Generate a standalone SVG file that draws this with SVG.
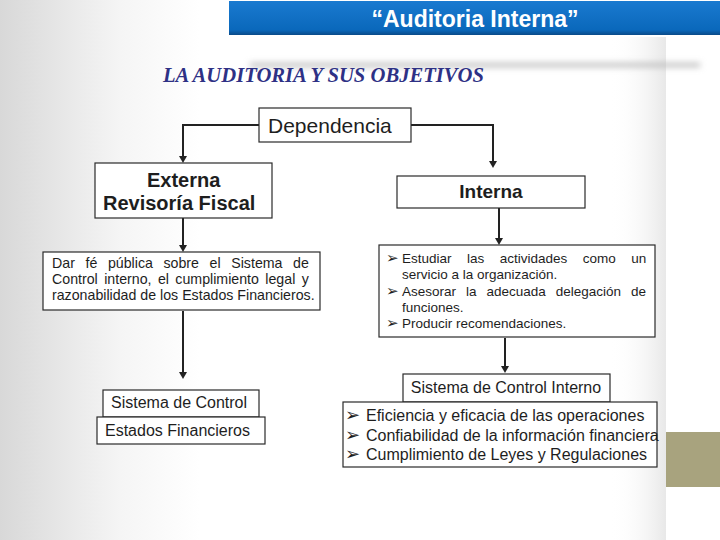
<svg xmlns="http://www.w3.org/2000/svg" width="720" height="540" viewBox="0 0 720 540">
<defs>
<linearGradient id="bgL" x1="0" y1="0" x2="1" y2="0">
<stop offset="0" stop-color="#d8d8d8"/>
<stop offset="0.18" stop-color="#f5f5f5"/>
<stop offset="0.3" stop-color="#ffffff"/>
</linearGradient>
<linearGradient id="panelR" x1="0" y1="0" x2="1" y2="0">
<stop offset="0" stop-color="#ffffff" stop-opacity="0"/>
<stop offset="1" stop-color="#e8e8e8"/>
</linearGradient>
<linearGradient id="bar" x1="0" y1="0" x2="0" y2="1">
<stop offset="0" stop-color="#1a7ad0"/>
<stop offset="0.85" stop-color="#0a68bb"/>
<stop offset="1" stop-color="#0a4a88"/>
</linearGradient>
<filter id="blur" x="-20%" y="-200%" width="140%" height="500%">
<feGaussianBlur stdDeviation="3"/>
</filter>
</defs>
<style>
.box{fill:#ffffff;stroke:#2a2a2a;stroke-width:1.2}
.t{font-family:"Liberation Sans",Arial,sans-serif;fill:#1e1e1e}
.b{font-weight:bold}
.bul{font-family:"DejaVu Sans",sans-serif}
.ln{fill:none;stroke:#222;stroke-width:2}
.ah{fill:#222}
</style>
<rect width="720" height="540" fill="#ffffff"/>
<rect x="0" y="0" width="666" height="540" fill="url(#bgL)"/>
<rect x="610" y="37" width="56" height="503" fill="url(#panelR)"/>
<rect x="666" y="0" width="54" height="540" fill="#ffffff"/>
<rect x="250" y="63" width="450" height="4" fill="#b8b8b8" filter="url(#blur)"/>
<rect x="666" y="432" width="54" height="55" fill="#a8a37e"/>
<g id="header">
<rect x="229" y="1" width="491" height="34" fill="url(#bar)"/>
<text x="475" y="27" text-anchor="middle" class="t b" font-size="23" style="fill:#ffffff">“Auditoria Interna”</text>
</g>
<text x="163" y="82" font-family="'Liberation Serif','Times New Roman',serif" font-weight="bold" font-style="italic" font-size="21" fill="#2e3185" textLength="321" lengthAdjust="spacingAndGlyphs">LA AUDITORIA  Y SUS OBJETIVOS</text>

<g id="connectors">
<path class="ln" d="M259 125 H183 V156"/>
<polygon class="ah" points="179,156 187,156 183,163"/>
<path class="ln" d="M411 125 H493 V161"/>
<polygon class="ah" points="489,161 497,161 493,168"/>
<path class="ln" d="M183 218 V245"/>
<polygon class="ah" points="179,245 187,245 183,252"/>
<path class="ln" d="M183 311 V372"/>
<polygon class="ah" points="179,372 187,372 183,379"/>
<path class="ln" d="M499 208 V238"/>
<polygon class="ah" points="495,238 503,238 499,245"/>
<path class="ln" d="M505 338 V367"/>
<polygon class="ah" points="501,366 509,366 505,373"/>
</g>

<g id="dependencia">
<rect class="box" x="259" y="108" width="152" height="34"/>
<text class="t" x="268" y="133" font-size="21">Dependencia</text>
</g>
<g id="externa">
<rect class="box" x="95" y="163" width="177" height="55"/>
<text class="t b" x="147" y="187" font-size="20">Externa</text>
<text class="t b" x="103" y="210" font-size="20">Revisoría Fiscal</text>
</g>
<g id="interna">
<rect class="box" x="397" y="176" width="188" height="32"/>
<text class="t b" x="491" y="198" font-size="19" text-anchor="middle">Interna</text>
</g>
<g id="dar-fe">
<rect class="box" x="43" y="252" width="277" height="58"/>
<text class="t" x="52" y="268" font-size="14.2" word-spacing="6.67">Dar fé pública sobre el Sistema de</text>
<text class="t" x="52" y="284" font-size="14.2" word-spacing="2.47">Control interno, el cumplimiento legal y</text>
<text class="t" x="52" y="300" font-size="14.2">razonabilidad de los Estados Financieros.</text>
</g>
<g id="sistema-control">
<rect class="box" x="103" y="390" width="156" height="27"/>
<text class="t" x="111" y="408" font-size="16">Sistema de Control</text>
</g>
<g id="estados-financieros">
<rect class="box" x="97" y="417" width="168" height="27"/>
<text class="t" x="105" y="436" font-size="16">Estados Financieros</text>
</g>
<g id="objetivos-interna">
<rect class="box" x="379" y="245" width="276" height="92"/>
<text class="t bul" x="386" y="263" font-size="15">➢</text>
<text class="t" x="402" y="263" font-size="13.5" word-spacing="11.7">Estudiar las actividades como un</text>
<text class="t" x="402" y="279" font-size="13.5">servicio a la organización.</text>
<text class="t bul" x="386" y="296" font-size="15">➢</text>
<text class="t" x="402" y="296" font-size="13.5" word-spacing="6.2">Asesorar la adecuada delegación de</text>
<text class="t" x="402" y="312" font-size="13.5">funciones.</text>
<text class="t bul" x="386" y="328" font-size="15">➢</text>
<text class="t" x="402" y="328" font-size="13.5">Producir recomendaciones.</text>
</g>
<g id="sci">
<rect class="box" x="403" y="374" width="207" height="28"/>
<text class="t" x="506" y="393" font-size="16" text-anchor="middle">Sistema de Control Interno</text>
</g>
<g id="objetivos-sci">
<rect class="box" x="343" y="402" width="314" height="65"/>
<text class="t bul" x="345" y="421" font-size="18">➢</text>
<text class="t" x="366" y="421" font-size="16">Eficiencia y eficacia de las operaciones</text>
<text class="t bul" x="345" y="441" font-size="18">➢</text>
<text class="t" x="366" y="441" font-size="16">Confiabilidad de la información financiera</text>
<text class="t bul" x="345" y="460" font-size="18">➢</text>
<text class="t" x="366" y="460" font-size="16">Cumplimiento de Leyes y Regulaciones</text>
</g>
</svg>
